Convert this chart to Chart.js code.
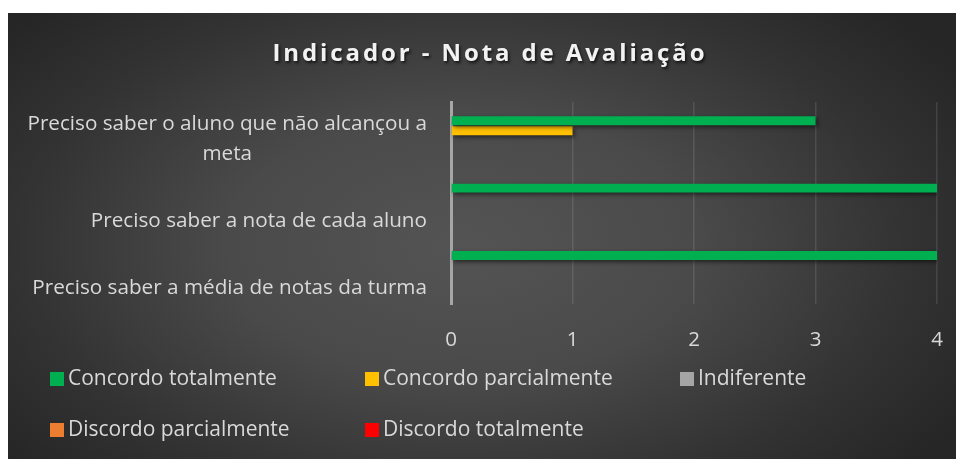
<!DOCTYPE html>
<html>
<head>
<meta charset="utf-8">
<script src="https://cdn.jsdelivr.net/npm/chart.js@4/dist/chart.umd.min.js"></script>
<style>
  html, body { margin: 0; padding: 0; background: #fff; }
  #wrap {
    position: absolute; left: 8px; top: 13px; width: 948px; height: 446px;
    background: radial-gradient(ellipse 62% 75% at 48% 52%, #545454 0%, #4a4a4a 40%, #333 75%, #262626 100%);
  }
</style>
</head>
<body>
<div id="wrap"><canvas id="chart" width="948" height="446"></canvas></div>
<script>
// Chart data
const chartTitle = 'Indicador - Nota de Avaliação';
const categories = [
    ['Preciso saber o aluno que não alcançou a', 'meta'],
    ['Preciso saber a nota de cada aluno'],
    ['Preciso saber a média de notas da turma']
];
const seriesNames = ['Concordo totalmente', 'Concordo parcialmente', 'Indiferente', 'Discordo parcialmente', 'Discordo totalmente'];
const concordoTotalmente = [3, 4, 4];
const concordoParcialmente = [1, 0, 0];
const indiferente = [0, 0, 0];
const discordoParcialmente = [0, 0, 0];
const discordoTotalmente = [0, 0, 0];
const xTicks = [0, 1, 2, 3, 4];

const colors = ['#00b050', '#ffc000', '#a5a5a5', '#ed7d31', '#ff0000'];
const textColor = '#d9d9d9';
const FONT = '"Open Sans", Lato, sans-serif';

Chart.defaults.font.family = FONT;

// draws the wrapped category labels, the title and the legend (excel style)
const excelDecor = {
    id: 'excelDecor',
    beforeDatasetsDraw(chart) {
        const ctx = chart.ctx;
        ctx.save();
        ctx.shadowColor = 'rgba(0,0,0,0.55)';
        ctx.shadowBlur = 4;
        ctx.shadowOffsetX = 2;
        ctx.shadowOffsetY = 2;
    },
    afterDatasetsDraw(chart) {
        chart.ctx.restore();
    },
    afterDraw(chart) {
        const ctx = chart.ctx;
        const yScale = chart.scales.y;

        // category labels
        ctx.save();
        ctx.fillStyle = textColor;
        ctx.font = '20.7px ' + FONT;
        ctx.textBaseline = 'middle';
        ctx.textAlign = 'center';
        const rightEdge = 419;
        categories.forEach((lines, i) => {
            const yc = yScale.getPixelForValue(i);
            const w = Math.max(...lines.map(l => ctx.measureText(l).width));
            const cx = rightEdge - w / 2;
            lines.forEach((l, j) => {
                const y = yc + 18 - (lines.length - 1 - j) * 30;
                ctx.fillText(l, cx, y);
            });
        });
        ctx.restore();

        // title
        ctx.save();
        ctx.font = 'bold 24px ' + FONT;
        ctx.fillStyle = '#f2f2f2';
        ctx.textAlign = 'center';
        ctx.textBaseline = 'alphabetic';
        ctx.letterSpacing = '2.9px';
        ctx.shadowColor = 'rgba(0,0,0,0.7)';
        ctx.shadowBlur = 3;
        ctx.shadowOffsetX = 1.5;
        ctx.shadowOffsetY = 2;
        ctx.fillText(chartTitle, 482, 48);
        ctx.restore();

        // legend
        ctx.save();
        ctx.font = '21px ' + FONT;
        ctx.textBaseline = 'middle';
        ctx.textAlign = 'left';
        const cols = [42, 357, 672];
        const rows = [366, 417];
        chart.data.datasets.forEach((ds, i) => {
            const x = cols[i % 3];
            const y = rows[Math.floor(i / 3)];
            ctx.fillStyle = ds.backgroundColor;
            ctx.fillRect(x, y - 7, 14, 14);
            ctx.fillStyle = textColor;
            ctx.fillText(ds.label, x + 18, y);
        });
        ctx.restore();
    }
};

const seriesData = [concordoTotalmente, concordoParcialmente, indiferente, discordoParcialmente, discordoTotalmente];
const stackIds = ['a', 'b', 'c', 'd', 'd'];

new Chart(document.getElementById('chart').getContext('2d'), {
    type: 'bar',
    data: {
        labels: categories,
        datasets: seriesNames.map((name, i) => ({
            label: name,
            data: seriesData[i],
            backgroundColor: colors[i],
            borderWidth: 0,
            stack: stackIds[i],
            categoryPercentage: 0.588,
            barPercentage: 0.9
        }))
    },
    options: {
        indexAxis: 'y',
        responsive: false,
        animation: false,
        layout: { padding: { top: 89, left: 443, right: 19, bottom: 0 } },
        plugins: {
            legend: { display: false },
            title: { display: false },
            tooltip: { enabled: false }
        },
        scales: {
            x: {
                min: 0,
                max: 4,
                afterBuildTicks: s => { s.ticks = xTicks.map(v => ({ value: v })); },
                afterFit: s => { s.height = 155; s.paddingRight = 0; s.paddingLeft = 0; },
                grid: { color: 'rgba(255,255,255,0.11)', lineWidth: 1.5, drawTicks: false },
                border: { display: false },
                ticks: { color: textColor, font: { size: 20.5 }, padding: 24 }
            },
            y: {
                afterFit: s => { s.width = 0; },
                grid: { display: false },
                border: { color: '#a6a6a6', width: 3 },
                ticks: { display: false }
            }
        }
    },
    plugins: [excelDecor]
});
</script>
</body>
</html>
